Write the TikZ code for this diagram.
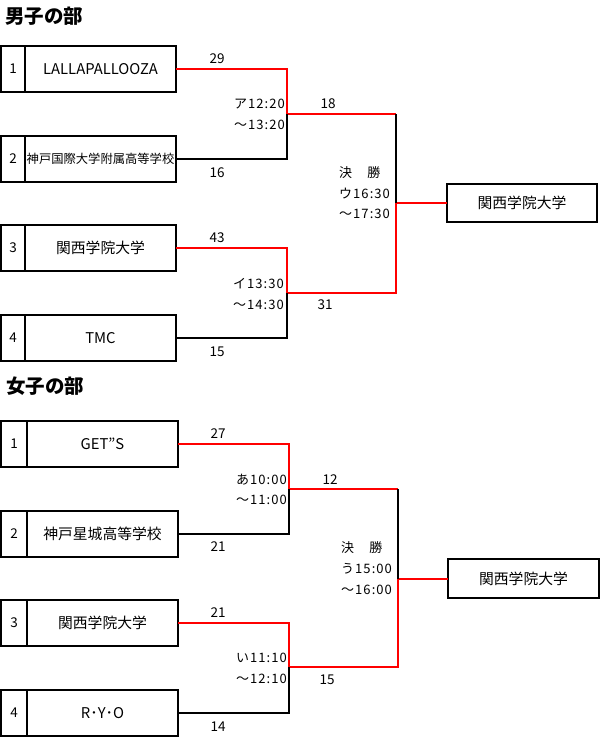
\documentclass[tikz,border=0pt]{standalone}
\usepackage{fontspec}
\setmainfont{Noto Sans CJK JP}
\newfontfamily\slotfont{Noto Sans CJK JP}[LetterSpace=8]
\usetikzlibrary{positioning}

\begin{document}
\begin{tikzpicture}[x=1pt, y=-1pt,
  seed/.style={draw, line width=2pt, outer sep=0pt, inner sep=0pt, minimum height=46pt, font=\fontsize{13.5}{15}\selectfont},
  team/.style={draw, line width=2pt, outer sep=0pt, inner sep=0pt, minimum height=46pt, minimum width=151pt, font=\fontsize{14.8}{16}\selectfont},
  champ/.style={draw, line width=2pt, outer sep=0pt, inner sep=0pt, minimum width=150.5pt, minimum height=38.5pt, font=\fontsize{14.8}{16}\selectfont},
  score/.style={inner sep=0pt, font=\fontsize{13.5}{15}\selectfont},
  slot/.style={inner sep=0pt, font=\slotfont\fontsize{13}{15}\selectfont},
  title/.style={inner sep=0pt, anchor=west, font=\bfseries\fontsize{19.5}{21}\selectfont},
  win/.style={draw=red, line width=2pt},
  lose/.style={draw=black, line width=2pt}]
  \useasboundingbox (0,0) rectangle (602,739);

  % men
  \node[title] (mtitle) at (5,16) {男子の部};
  \node[seed, minimum width=24pt] (m1n) at (13,69) {1};
  \node[team, right=0pt of m1n] (m1) {LALLAPALLOOZA};
  \node[seed, minimum width=24pt] (m2n) at (13,159) {2};
  \node[team, right=0pt of m2n, font=\fontsize{12.3}{14}\selectfont] (m2) {神戸国際大学附属高等学校};
  \node[seed, minimum width=24pt] (m3n) at (13,248) {3};
  \node[team, right=0pt of m3n] (m3) {関西学院大学};
  \node[seed, minimum width=24pt] (m4n) at (13,338) {4};
  \node[team, right=0pt of m4n] (m4) {TMC};

  \coordinate (ms1) at (287,114); \coordinate (ms2) at (287,293);
  \coordinate (mf1) at (396,114); \coordinate (mf) at (396,203);
  \node[champ] (mw) at (522,203) {関西学院大学};

  \draw[win] (m1.east) -| (ms1) -- (mf1);
  \draw[lose] (m2.east) -| (ms1);
  \draw[win] (m3.east) -| (ms2) -| (mf) -- (mw.west);
  \draw[lose] (m4.east) -| (ms2);
  \draw[lose] (mf1) -- (mf);

  \node[score] (m1s) at (217,59) {29}; \node[score] (m2s) at (217,173) {16};
  \node[score] (m3s) at (217,238) {43}; \node[score] (m4s) at (217,352) {15};
  \node[score] (ms1s) at (328,104) {18}; \node[score] (ms2s) at (325,305) {31};

  \node[slot, anchor=east] (ms1a) at (285,104) {ア12:20};
  \node[slot, anchor=east] (ms1b) at (285,125) {～13:20};
  \node[slot, anchor=east] (ms2a) at (284,284) {イ13:30};
  \node[slot, anchor=east] (ms2b) at (284,305) {～14:30};
  \node[slot, anchor=west] (mfa) at (339,173) {決　勝};
  \node[slot, anchor=west] (mfb) at (339,194) {ウ16:30};
  \node[slot, anchor=west] (mfc) at (339,214) {～17:30};

  % women
  \node[title] (wtitle) at (6,386) {女子の部};
  \node[seed, minimum width=26pt] (w1n) at (14,444) {1};
  \node[team, right=0pt of w1n] (w1) {GET”S};
  \node[seed, minimum width=26pt] (w2n) at (14,533.5) {2};
  \node[team, right=0pt of w2n] (w2) {神戸星城高等学校};
  \node[seed, minimum width=26pt] (w3n) at (14,623) {3};
  \node[team, right=0pt of w3n] (w3) {関西学院大学};
  \node[seed, minimum width=26pt] (w4n) at (14,713) {4};
  \node[team, right=0pt of w4n] (w4) {R･Y･O};

  \coordinate (ws1) at (289,489); \coordinate (ws2) at (289,667);
  \coordinate (wf1) at (398,489); \coordinate (wf) at (398,578.5);
  \node[champ] (ww) at (523.5,578.5) {関西学院大学};

  \draw[win] (w1.east) -| (ws1) -- (wf1);
  \draw[lose] (w2.east) -| (ws1);
  \draw[win] (w3.east) -| (ws2) -| (wf) -- (ww.west);
  \draw[lose] (w4.east) -| (ws2);
  \draw[lose] (wf1) -- (wf);

  \node[score] (w1s) at (218,434) {27}; \node[score] (w2s) at (218,547) {21};
  \node[score] (w3s) at (218,613) {21}; \node[score] (w4s) at (218,727) {14};
  \node[score] (ws1s) at (330,480) {12}; \node[score] (ws2s) at (327,680) {15};

  \node[slot, anchor=east] (ws1a) at (287,480) {あ10:00};
  \node[slot, anchor=east] (ws1b) at (287,500) {～11:00};
  \node[slot, anchor=east] (ws2a) at (287,658) {い11:10};
  \node[slot, anchor=east] (ws2b) at (287,679) {～12:10};
  \node[slot, anchor=west] (wfa) at (341,548) {決　勝};
  \node[slot, anchor=west] (wfb) at (341,569) {う15:00};
  \node[slot, anchor=west] (wfc) at (341,590) {～16:00};
\end{tikzpicture}
\end{document}
